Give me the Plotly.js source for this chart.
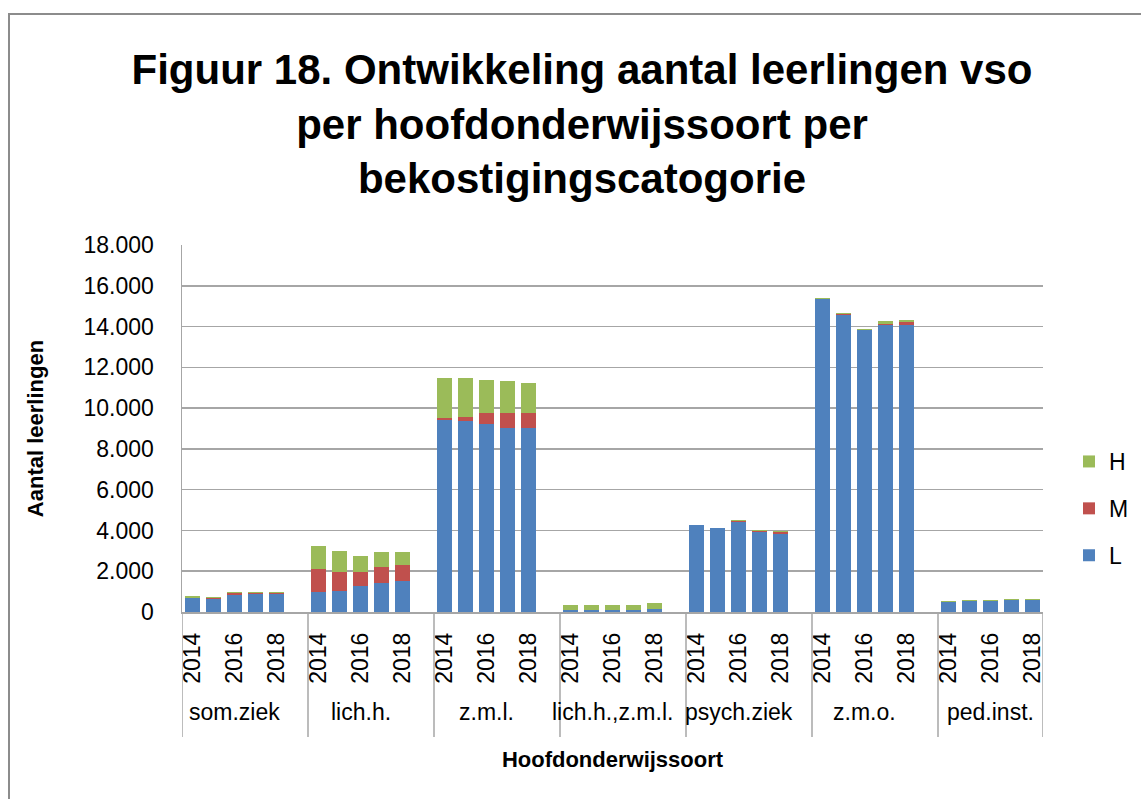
<!DOCTYPE html>
<html>
<head>
<meta charset="utf-8">
<script src="https://cdn.plot.ly/plotly-3.0.1.min.js"></script>
<style>html,body{margin:0;padding:0;background:#fff;}#chart{width:1141px;height:799px;}</style>
</head>
<body>
<div id="chart"></div>
<script>
// ---- data ----
var groups = ['som.ziek', 'lich.h.', 'z.m.l.', 'lich.h.,z.m.l.', 'psych.ziek', 'z.m.o.', 'ped.inst.'];
var years = ['2014', '2015', '2016', '2017', '2018'];
var shownYears = ['2014', '2016', '2018'];
var seriesNames = ['L', 'M', 'H'];
var valuesL = [
  [700, 650, 850, 900, 900],
  [970, 1030, 1280, 1410, 1540],
  [9430, 9360, 9210, 9020, 9020],
  [100, 100, 100, 100, 150],
  [4260, 4130, 4410, 3920, 3840],
  [15350, 14590, 13820, 14060, 14060],
  [480, 540, 540, 590, 590]
];
var valuesM = [
  [10, 60, 70, 15, 10],
  [1130, 940, 690, 820, 770],
  [80, 180, 530, 720, 720],
  [5, 5, 5, 5, 10],
  [0, 0, 60, 40, 70],
  [10, 10, 10, 90, 160],
  [5, 5, 5, 5, 5]
];
var valuesH = [
  [60, 50, 45, 50, 55],
  [1150, 1010, 770, 690, 610],
  [1960, 1930, 1650, 1580, 1470],
  [240, 240, 240, 240, 300],
  [10, 10, 60, 45, 60],
  [60, 60, 60, 110, 120],
  [60, 65, 55, 60, 60]
];

// ---- layout helpers ----
var slotsPerGroup = years.length + 1; // one empty slot between groups
var colors = {L: '#4F81BD', M: '#C0504D', H: '#9BBB59'};
var legendRanks = {H: 1, M: 2, L: 3};
var FONT = 'Liberation Sans, Arial, sans-serif';

function slotX(g, y) { return g * slotsPerGroup + y; }

function buildTrace(name, vals) {
  var xs = [], ys = [], txt = [];
  for (var g = 0; g < groups.length; g++) {
    for (var y = 0; y < years.length; y++) {
      xs.push(slotX(g, y));
      ys.push(vals[g][y]);
      txt.push(groups[g] + ' ' + years[y]);
    }
  }
  return {
    type: 'bar', name: name, x: xs, y: ys, text: txt,
    textposition: 'none', hovertemplate: '%{text}: %{y}<extra>' + name + '</extra>',
    marker: {color: colors[name]}, legendgroup: name, legendrank: legendRanks[name]
  };
}

var data = [buildTrace('L', valuesL), buildTrace('M', valuesM), buildTrace('H', valuesH)];

var tickvals = [], ticktext = [];
for (var g = 0; g < groups.length; g++) {
  for (var y = 0; y < years.length; y++) {
    if (shownYears.indexOf(years[y]) >= 0) { tickvals.push(slotX(g, y)); ticktext.push(years[y]); }
  }
}
var lastSlot = slotX(groups.length - 1, years.length - 1);

var W = 1141, H = 799;
var mL = 182, mR = 98, mT = 245, mB = 187;
var pw = W - mL - mR, ph = H - mT - mB;
function pxToPaperY(py) { return (H - mB - py) / ph; }
function pxToPaperX(px) { return (px - mL) / pw; }

var shapes = [];
var dividerBottom = pxToPaperY(737);
for (var g = 0; g <= groups.length; g++) {
  var xv = (g < groups.length) ? slotX(g, 0) - 0.5 : lastSlot + 0.5;
  shapes.push({type: 'line', xref: 'x', yref: 'paper', x0: xv, x1: xv, y0: 0, y1: dividerBottom,
    line: {color: '#a6a6a6', width: 1.5}});
}
// chart area border
shapes.push({type: 'rect', xref: 'paper', yref: 'paper',
  x0: pxToPaperX(9), x1: pxToPaperX(1160), y0: pxToPaperY(820), y1: pxToPaperY(14),
  line: {color: '#8c8c8c', width: 2}, fillcolor: 'rgba(0,0,0,0)'});

var annotations = groups.map(function (name, g) {
  return {xref: 'x', yref: 'paper', x: slotX(g, 2), y: pxToPaperY(712), text: name, showarrow: false,
    xanchor: 'center', yanchor: 'middle', font: {family: FONT, size: 23, color: '#000'}};
});

var layout = {
  width: W, height: H,
  margin: {l: mL, r: mR, t: mT, b: mB, pad: 0, autoexpand: false},
  paper_bgcolor: '#fff', plot_bgcolor: '#fff',
  separators: ',.',
  barmode: 'stack', bargap: 0.33,
  font: {family: FONT, color: '#000'},
  title: {
    text: 'Figuur 18. Ontwikkeling aantal leerlingen vso<br>per hoofdonderwijssoort per<br>bekostigingscatogorie',
    font: {family: FONT, size: 42, color: '#000', weight: 'bold', lineheight: 1.35},
    xref: 'container', x: 582 / W, xanchor: 'center',
    yref: 'container', y: 1 - 84 / H, yanchor: 'top'
  },
  xaxis: {
    type: 'linear', range: [-0.5, lastSlot + 0.5], fixedrange: true, automargin: false,
    tickmode: 'array', tickvals: tickvals, ticktext: ticktext, tickangle: -90,
    tickfont: {family: FONT, size: 23, color: '#000'},
    ticks: '', ticklabelstandoff: 10,
    showgrid: false, zeroline: false,
    showline: true, linecolor: '#a6a6a6', linewidth: 1.5,
    title: {text: 'Hoofdonderwijssoort', font: {family: FONT, size: 22, weight: 'bold', color: '#000'}, standoff: 68}
  },
  yaxis: {
    range: [0, 18000], dtick: 2000, tickformat: ',.0f', fixedrange: true, automargin: false,
    tickfont: {family: FONT, size: 23, color: '#000'},
    ticks: '', ticklabelstandoff: 22,
    showgrid: true, gridcolor: '#a6a6a6', gridwidth: 1.5,
    zeroline: false, showline: true, linecolor: '#a6a6a6', linewidth: 1.5,
    title: {text: 'Aantal leerlingen', font: {family: FONT, size: 22, weight: 'bold', color: '#000'}, standoff: 34}
  },
  legend: {
    xref: 'container', yref: 'container',
    x: 1069 / W, xanchor: 'left', y: 1 - 440 / H, yanchor: 'top',
    traceorder: 'grouped', tracegroupgap: 14,
    font: {family: FONT, size: 23, color: '#000'}, bgcolor: 'rgba(0,0,0,0)'
  },
  shapes: shapes,
  annotations: annotations
};

Plotly.newPlot('chart', data, layout, {displayModeBar: false, staticPlot: true});
</script>
</body>
</html>
